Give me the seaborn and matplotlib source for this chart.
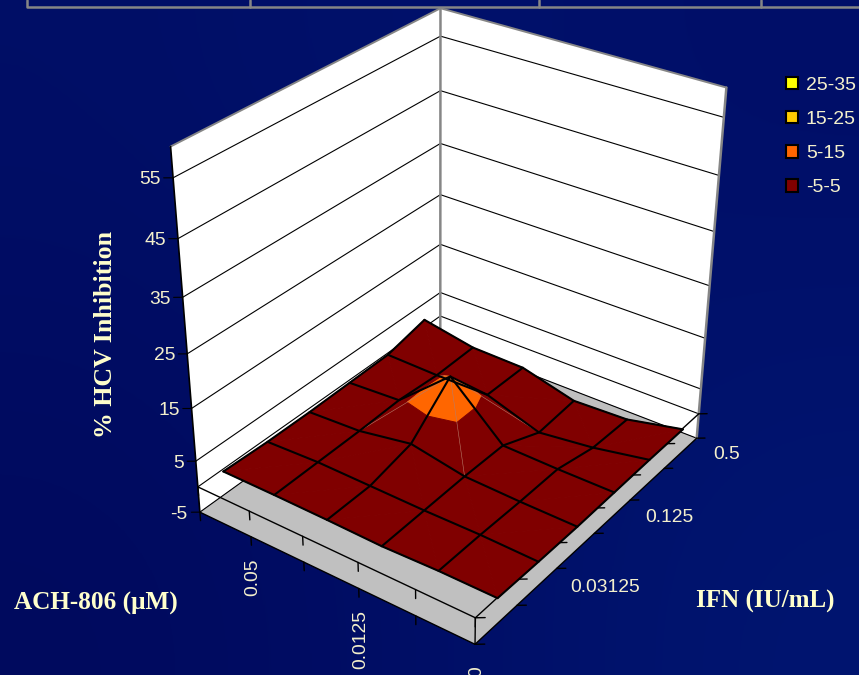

import numpy as np
import matplotlib
matplotlib.use('Agg')
import matplotlib.pyplot as plt
from matplotlib.colors import to_rgb
from matplotlib.patches import Patch
from mpl_toolkits.mplot3d import proj3d
from mpl_toolkits.mplot3d.art3d import Poly3DCollection
import seaborn as sns

# ---- data -------------------------------------------------------------
ach_labels = ['0.05', '0.0125', '0']
ach_label_ticks = [4, 2, 0]
ifn_labels = ['0.03125', '0.125', '0.5']
ifn_label_ticks = [1.5, 3.5, 5.5]
z_ticks = [-5, 5, 15, 25, 35, 45, 55]
band_labels = ['25-35', '15-25', '5-15', '-5-5']
band_colors = ['#FFFF00', '#FFCC00', '#FF6600', '#800000']
band_edges = [35, 25, 15, 7.2, -8]
# % HCV inhibition; rows run along ACH-806, columns along IFN
row0 = [2.2, 1.9, 1.9, 2.1, 2.3, 4.2]
row1 = [2.2, 2.3, 2.4, 2.7, 2.1, 2.3]
row2 = [2.1, 2.2, 4.2, 11.5, 2.2, 2.1]
row3 = [1.9, 2.1, 2.3, 2.2, -1.2, -0.6]
row4 = [2.2, 2.2, 2.0, 2.0, 0.1, -0.2]
row5 = [2.2, 2.0, 1.9, 2.0, 2.1, 2.1]

NAVY = '#00106A'
CREAM = '#F4F0CC'
TITLE = '#FFFFCC'
GRAY = '#868686'
backdrop = [['#000E66', '#00126C', '#000E68'],
            ['#000C62', '#000F68', '#00126C'],
            ['#000A5E', '#000E66', '#001570']]

sns.set_theme(style='white')
plt.rcParams['font.family'] = ['Liberation Sans', 'DejaVu Sans']
palette = sns.color_palette(band_colors)

W, H = 859, 675
fig = plt.figure(figsize=(W / 100, H / 100), dpi=100, facecolor=NAVY)

bg = fig.add_axes([0, 0, 1, 1], zorder=-1)
bg.imshow([[to_rgb(c) for c in r] for r in backdrop], aspect='auto', interpolation='bicubic')
bg.axis('off')

# ---- camera fitted to the picture --------------------------------------
side = 662.5
ax = fig.add_axes([116.4 / W, (H - 645.3) / H, side / W, side / H], projection='3d')
ax.patch.set_alpha(0)
ax.set_axis_off()
ax.computed_zorder = False
ax.set_proj_type('persp', focal_length=0.5287)
ax.view_init(elev=30.7408, azim=-144.3838, roll=-0.328)
ax.set_box_aspect((1, 0.8285, 0.9957))
XMAX, YMAX, ZMIN, ZMAX = 6, 5, -5, 60
ax.set_xlim(0, XMAX); ax.set_ylim(0, YMAX); ax.set_zlim(ZMIN, ZMAX)
ax.autoscale(False)
ax.apply_aspect()

Z = np.array([row0, row1, row2, row3, row4, row5])
xs = 0.3038 + 0.9857 * np.arange(6)
ys = 4.7583 - 0.9807 * np.arange(6)

def seg(a, b, color='black', lw=0.9, zo=3):
    ax.plot([a[0], b[0]], [a[1], b[1]], [a[2], b[2]], color=color, lw=lw, zorder=zo,
            solid_capstyle='round')

def to_px(x, y, z):
    px, py, _ = proj3d.proj_transform(x, y, z, ax.get_proj())
    dx, dy = ax.transData.transform((px, py))
    return dx, H - dy

# walls and floor
walls = [[(0, YMAX, ZMIN), (XMAX, YMAX, ZMIN), (XMAX, YMAX, ZMAX), (0, YMAX, ZMAX)],
         [(XMAX, YMAX, ZMIN), (XMAX, 0, ZMIN), (XMAX, 0, ZMAX), (XMAX, YMAX, ZMAX)]]
ax.add_collection3d(Poly3DCollection(walls, facecolors='white', edgecolors='none', zorder=1), autolim=False)
floor = [[(0, 0, ZMIN), (XMAX, 0, ZMIN), (XMAX, YMAX, ZMIN), (0, YMAX, ZMIN)]]
ax.add_collection3d(Poly3DCollection(floor, facecolors='#C0C0C0', edgecolors='none', zorder=2), autolim=False)

for z in [0] + z_ticks:
    seg((0, YMAX, z), (XMAX, YMAX, z), lw=0.8)
    seg((XMAX, YMAX, z), (XMAX, 0, z), lw=0.8)
# wall borders
seg((0, YMAX, ZMAX), (XMAX, YMAX, ZMAX), GRAY, 1.4, 4)
seg((XMAX, YMAX, ZMAX), (XMAX, 0, ZMAX), GRAY, 1.4, 4)
seg((XMAX, YMAX, ZMIN), (XMAX, YMAX, ZMAX), GRAY, 1.8, 3)
seg((XMAX, 0, ZMIN), (XMAX, 0, ZMAX), GRAY, 1.8, 4)
seg((0, YMAX, ZMIN), (0, YMAX, ZMAX), 'black', 1.2, 4)
# axis rims at the floor and at zero, with their ticks
for z in [ZMIN, 0]:
    seg((0, YMAX, z), (0, 0, z), lw=1.0, zo=4)
    seg((0, 0, z), (XMAX, 0, z), lw=1.0, zo=4)
    for y in range(YMAX + 1):
        seg((0, y, z), (0, y, z - 1.7), lw=1.0, zo=4)
    for x in range(XMAX + 1):
        seg((x, 0, z), (x + 0.08, -0.104, z), lw=1.0, zo=4)
seg((0, 0, ZMIN), (0, 0, 0), lw=1.0, zo=4)
for z in z_ticks:
    seg((0, YMAX, z), (-0.075, YMAX + 0.1, z), lw=0.8, zo=4)

# ---- surface, cut into colour bands ------------------------------------
def clip(poly, level, keep_above):
    out = []
    for i in range(len(poly)):
        p, q = poly[i], poly[(i + 1) % len(poly)]
        dp, dq = p[2] - level, q[2] - level
        if not keep_above:
            dp, dq = -dp, -dq
        if dp >= 0:
            out.append(p)
        if dp * dq < 0:
            t = dp / (dp - dq)
            out.append(tuple(p[k] + t * (q[k] - p[k]) for k in range(3)))
    return out

polys, faces = [], []
for a in range(5):
    for b in range(5):
        c = [(xs[b], ys[a], Z[a, b]), (xs[b + 1], ys[a], Z[a, b + 1]),
             (xs[b + 1], ys[a + 1], Z[a + 1, b + 1]), (xs[b], ys[a + 1], Z[a + 1, b])]
        if Z[a, b] + Z[a + 1, b + 1] >= Z[a, b + 1] + Z[a + 1, b]:
            tris = [[c[0], c[1], c[2]], [c[0], c[2], c[3]]]
        else:
            tris = [[c[0], c[1], c[3]], [c[1], c[2], c[3]]]
        for tri in tris:
            for k, col in enumerate(palette):
                piece = clip(clip(tri, band_edges[k], False), band_edges[k + 1], True)
                if len(piece) >= 3:
                    polys.append(piece)
                    faces.append(col)
surf = Poly3DCollection(polys, facecolors=faces, edgecolors=faces, linewidths=0.7, zorder=5)
ax.add_collection3d(surf, autolim=False)

# thin seams running from the peak along the diagonals
pa, pb = np.unravel_index(np.argmax(Z), Z.shape)
for da in (-1, 1):
    for db in (-1, 1):
        seg((xs[pb], ys[pa], Z[pa, pb]), (xs[pb + db], ys[pa + da], Z[pa + da, pb + db]),
            '#B87A68', 0.4, 6)

# mesh
for a in range(6):
    ax.plot(xs, np.full(6, ys[a]), Z[a], color='black', lw=1.5, zorder=7)
for b in range(6):
    ax.plot(np.full(6, xs[b]), ys, Z[:, b], color='black', lw=1.5, zorder=7)

# ---- flat overlay: presentation table edge, tick labels, axis titles -----
ov = fig.add_axes([0, 0, 1, 1], zorder=5)
ov.patch.set_alpha(0)
ov.set_xlim(0, W); ov.set_ylim(H, 0)
ov.axis('off')
ov.plot([27, 27, W], [0, 6.7, 6.7], color=GRAY, lw=1.8)
for x in (250, 539, 761):
    ov.plot([x, x], [0, 6.7], color=GRAY, lw=1.8)

tick_font = dict(color=CREAM, fontsize=13.9)
for z in z_ticks:
    px, py = to_px(0, YMAX, z)
    ov.text(px - 12, py + 2, str(z), ha='right', va='center', **tick_font)
for lab, y in zip(ach_labels, ach_label_ticks):
    px, py = to_px(0, y, ZMIN)
    ov.text(px + 2, py + 22, lab, rotation=90, ha='center', va='top', clip_on=False, **tick_font)
for lab, x in zip(ifn_labels, ifn_label_ticks):
    px, py = to_px(x, 0, ZMIN)
    ov.text(px + 33, py + 1, lab, ha='left', va='center', **tick_font)

serif = dict(family='Liberation Serif', weight='bold', color=TITLE)
ov.text(96, 603, 'ACH-806 (\u03bcM)', ha='center', va='center', fontsize=18.2, **serif)
ov.text(765, 601, 'IFN (IU/mL)', ha='center', va='center', fontsize=18, **serif)
ov.text(106, 334, '% HCV Inhibition', ha='center', va='center', rotation=90, fontsize=18.6, **serif)

handles = [Patch(facecolor=c, edgecolor='black', linewidth=1.5) for c in palette]
fig.legend(handles, band_labels, loc='upper left', bbox_to_anchor=(786 / W, 1 - 77 / H), frameon=False,
           fontsize=14, labelcolor=CREAM, handlelength=0.6, handleheight=0.6,
           labelspacing=0.88, handletextpad=0.42, borderpad=0, borderaxespad=0)

fig.savefig('out.png', dpi=100, facecolor=NAVY)
